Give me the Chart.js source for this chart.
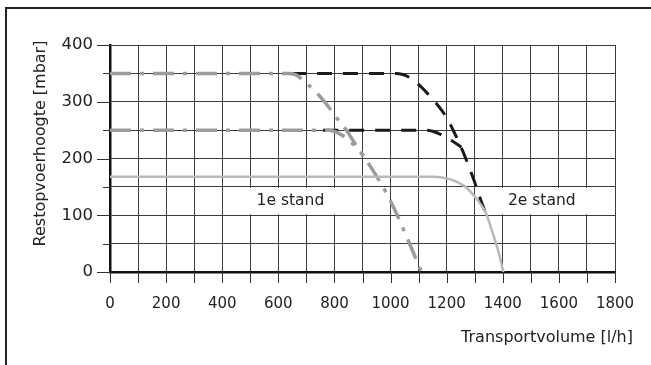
<!DOCTYPE html>
<html>
<head>
<meta charset="utf-8">
<script src="https://cdn.jsdelivr.net/npm/chart.js@4.4.0/dist/chart.umd.min.js"></script>
<style>
  html, body { margin: 0; padding: 0; background: #fff; }
  #wrap { width: 651px; height: 365px; position: relative; }
</style>
</head>
<body>
<div id="wrap"><canvas id="c" width="651" height="365"></canvas></div>
<script>
// ---- data ----
const xTicksLabelled = [0, 200, 400, 600, 800, 1000, 1200, 1400, 1600, 1800];
const yTicksLabelled = [0, 100, 200, 300, 400];
const xTitle = 'Transportvolume [l/h]';
const yTitle = 'Restopvoerhoogte [mbar]';
const noteLabels = ['1e stand', '2e stand'];
const noteX = [643, 1539];
const noteY = [125, 125];

// solid light grey curve
const solidX = [0, 1160, 1200, 1240, 1270, 1300, 1320, 1340, 1365, 1385, 1402];
const solidY = [168, 168, 165, 158, 149, 133, 120, 104, 67, 35, 0];

// grey dash-dot curve starting at 350
const greyHighX = [0, 640, 665, 690, 738, 768, 809, 845, 875, 904, 951, 1000, 1066, 1110];
const greyHighY = [350, 350, 347, 337, 315, 298, 271, 248, 225, 204, 168, 125, 52, 0];

// grey dash-dot curve starting at 250
const greyLowX = [0, 780, 805, 830, 860, 885, 904];
const greyLowY = [250, 250, 247, 240, 228, 216, 204];

// black dashed curve starting at 350
const blackHighX = [645, 1020, 1070, 1140, 1200, 1225, 1260, 1297, 1325, 1340];
const blackHighY = [350, 350, 342, 310, 272, 248, 210, 162, 122, 103];

// black dashed curve starting at 250
const blackLowX = [760, 1120, 1150, 1180, 1220, 1252];
const blackLowY = [250, 250, 248, 242, 231, 220];

function pts(xs, ys) { return xs.map((x, i) => ({ x: x, y: ys[i] })); }

const FONT = 'DejaVu Sans';
const TXT = '#222';

const decor = {
  id: 'decor',
  beforeDatasetsDraw(chart) {
    const ctx = chart.ctx;
    const xs = chart.scales.x, ys = chart.scales.y;
    const yTop = ys.getPixelForValue(150) + 1;
    const yBot = ys.getPixelForValue(100) - 1;
    ctx.save();
    ctx.fillStyle = '#fff';
    ctx.fillRect(xs.getPixelForValue(470), yTop, xs.getPixelForValue(830) - xs.getPixelForValue(470), yBot - yTop);
    ctx.fillRect(xs.getPixelForValue(1365), yTop, xs.getPixelForValue(1765) - xs.getPixelForValue(1365), yBot - yTop);
    ctx.fillStyle = TXT;
    ctx.font = '15.5px "' + FONT + '"';
    ctx.textAlign = 'center';
    ctx.textBaseline = 'middle';
    for (let i = 0; i < noteLabels.length; i++) {
      ctx.fillText(noteLabels[i], xs.getPixelForValue(noteX[i]), ys.getPixelForValue(noteY[i]));
    }
    ctx.restore();
  },
  afterDraw(chart) {
    const ctx = chart.ctx;
    const xs = chart.scales.x, ys = chart.scales.y;
    const a = chart.chartArea;
    ctx.save();
    ctx.strokeStyle = '#333';
    ctx.lineWidth = 1;
    ctx.beginPath();
    for (let v = 0; v <= 400; v += 50) {
      const py = Math.round(ys.getPixelForValue(v)) + 0.5;
      const len = (v % 100 === 0) ? 13 : 7;
      ctx.moveTo(a.left - len, py);
      ctx.lineTo(a.left, py);
    }
    for (let v = 0; v <= 1800; v += 100) {
      const px = Math.round(xs.getPixelForValue(v)) + 0.5;
      ctx.moveTo(px, a.bottom);
      ctx.lineTo(px, a.bottom + 11);
    }
    ctx.stroke();
    ctx.strokeStyle = '#222';
    ctx.lineWidth = 2;
    ctx.beginPath();
    ctx.moveTo(6, 365);
    ctx.lineTo(6, 8);
    ctx.lineTo(651, 8);
    ctx.stroke();
    ctx.fillStyle = TXT;
    ctx.font = '16px "' + FONT + '"';
    ctx.textAlign = 'right';
    ctx.textBaseline = 'middle';
    ctx.fillText(xTitle, 633, 338);
    ctx.translate(41, 143.5);
    ctx.rotate(-Math.PI / 2);
    ctx.textAlign = 'center';
    ctx.fillText(yTitle, 0, 0);
    ctx.restore();
  }
};

new Chart(document.getElementById('c'), {
  type: 'line',
  data: {
    datasets: [
      { data: pts(solidX, solidY), borderColor: '#b9b9b9', borderWidth: 2.5, cubicInterpolationMode: 'monotone' },
      { data: pts(greyHighX, greyHighY), borderColor: '#9c9c9c', borderWidth: 3.5, borderDash: [21, 9, 4, 9], cubicInterpolationMode: 'monotone' },
      { data: pts(greyLowX, greyLowY), borderColor: '#9c9c9c', borderWidth: 3.5, borderDash: [21, 9, 4, 9], cubicInterpolationMode: 'monotone' },
      { data: pts(blackHighX, blackHighY), borderColor: '#1a1a1a', borderWidth: 3, borderDash: [15, 11], cubicInterpolationMode: 'monotone' },
      { data: pts(blackLowX, blackLowY), borderColor: '#1a1a1a', borderWidth: 3, borderDash: [15, 11], cubicInterpolationMode: 'monotone' }
    ]
  },
  options: {
    responsive: false,
    animation: false,
    events: [],
    layout: { padding: { top: 45, right: 36, bottom: 0, left: 0 } },
    elements: { point: { radius: 0 }, line: { fill: false } },
    plugins: { legend: { display: false }, tooltip: { enabled: false } },
    scales: {
      x: {
        type: 'linear', min: 0, max: 1800,
        afterFit(s) { s.height = 93; s.paddingLeft = 0; s.paddingRight = 0; },
        border: { display: true, color: '#111', width: 2.5 },
        grid: { color: '#3c3c3c', lineWidth: 1, drawTicks: false },
        ticks: {
          stepSize: 100, autoSkip: false, maxRotation: 0, padding: 23,
          color: TXT, font: { family: FONT, size: 15 },
          callback: (v) => xTicksLabelled.includes(v) ? String(v) : ''
        }
      },
      y: {
        type: 'linear', min: 0, max: 400,
        afterFit(s) { s.width = 110; s.paddingTop = 0; s.paddingBottom = 0; },
        border: { display: true, color: '#111', width: 2.5 },
        grid: { color: '#3c3c3c', lineWidth: 1, drawTicks: false },
        ticks: {
          stepSize: 50, autoSkip: false, padding: 17,
          color: TXT, font: { family: FONT, size: 16.5 },
          callback: (v) => yTicksLabelled.includes(v) ? String(v) : ''
        }
      }
    }
  },
  plugins: [decor]
});
</script>
</body>
</html>
